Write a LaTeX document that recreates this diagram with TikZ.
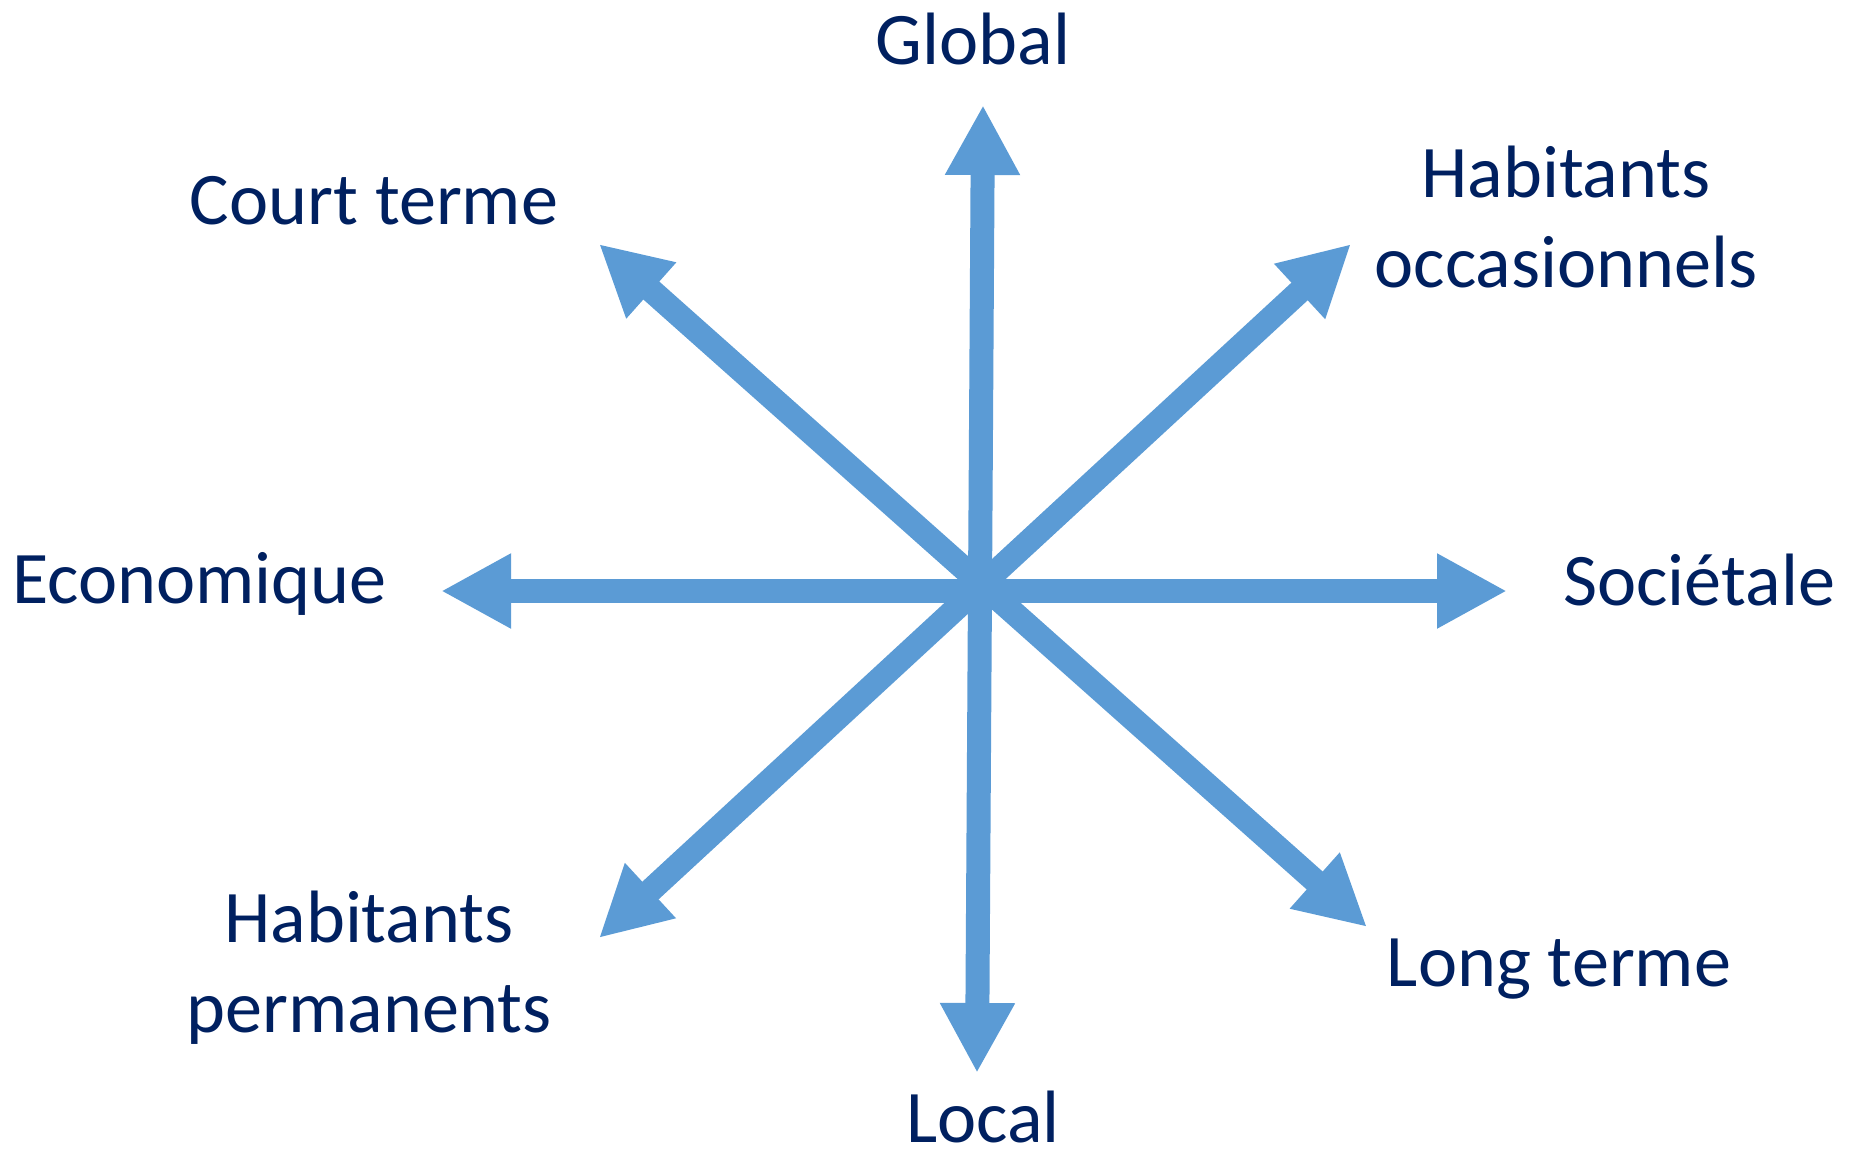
\documentclass[tikz,border=0pt]{standalone}
\usepackage{fontspec}
\setmainfont{Carlito}
\usetikzlibrary{arrows.meta}
\definecolor{arrblue}{HTML}{5B9BD5}
\definecolor{txtnavy}{HTML}{002060}
\begin{document}
\begin{tikzpicture}[x=0.5pt,y=-0.5pt,
  arr/.style={draw=arrblue,line width=12pt,
    {Triangle[length=35pt,width=35pt]}-{Triangle[length=35pt,width=35pt]}},
  lab/.style={text=txtnavy,font=\fontsize{37.1}{45}\selectfont,inner sep=0pt,align=center,anchor=base}]
\useasboundingbox (0,0) rectangle (1852,1152);
% arrow end points
\coordinate (top) at (983,105);
\coordinate (bot) at (977,1073);
\coordinate (lft) at (441,591);
\coordinate (rgt) at (1507,591);
\coordinate (nw) at (599,244);
\coordinate (se) at (1367,927);
\coordinate (ne) at (1351,244);
\coordinate (sw) at (599,938);
\draw[arr] (top) -- (bot);
\draw[arr] (lft) -- (rgt);
\draw[arr] (nw) -- (se);
\draw[arr] (ne) -- (sw);
% labels
\node[lab] (global) at (973,64) {Global};
\node[lab] (local) at (983,1142) {Local};
\node[lab,anchor=base west] (eco) at (12,603) {Economique};
\node[lab,anchor=base west] (soc) at (1563,605) {Sociétale};
\node[lab] (court) at (374,224) {Court terme};
\node[lab] (long) at (1559,986) {Long terme};
\node[lab] (occ) at (1566,287) {Habitants\\occasionnels};
\node[lab] (perm) at (369,1032) {Habitants\\permanents};
\end{tikzpicture}
\end{document}
